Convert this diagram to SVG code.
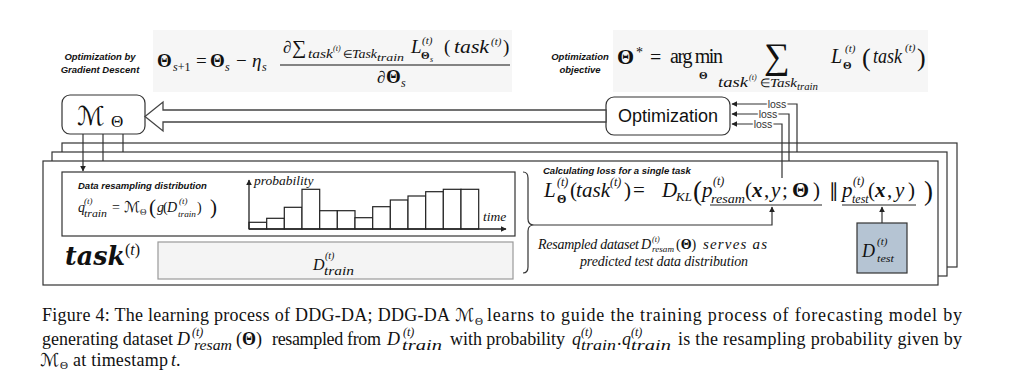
<svg xmlns="http://www.w3.org/2000/svg" width="1027" height="384" viewBox="0 0 1027 384">
<defs>
<marker id="ah" viewBox="0 0 10 10" refX="9" refY="5" markerWidth="6" markerHeight="6" markerUnits="userSpaceOnUse" orient="auto-start-reverse"><path d="M0,0 L10,5 L0,10 z" fill="#222"/></marker>
</defs>
<style>
.lbl{font-family:"Liberation Sans",Arial,sans-serif;font-weight:bold;font-style:italic;font-size:9.5px;fill:#111}
.m{font-family:"Liberation Serif","Times New Roman",serif;font-style:italic;fill:#111}
.r{font-family:"Liberation Serif","Times New Roman",serif;font-style:normal;fill:#111}
.b{font-weight:bold}
.sc{font-family:"DejaVu Serif","DejaVu Sans",serif;font-style:normal;fill:#111}
.cap{font-family:"Liberation Serif","Times New Roman",serif;font-size:18px;fill:#111}
.frame{fill:#fff;stroke:#333;stroke-width:1.2}
.ln{fill:none;stroke:#333;stroke-width:1.2}
.bar{fill:#fff;stroke:#222;stroke-width:1.2}
.loss{font-family:"Liberation Sans",Arial,sans-serif;font-size:10.5px;fill:#333;stroke:#fff;stroke-width:3;paint-order:stroke}
</style>
<rect width="1027" height="384" fill="#fff"/>

<g id="formula-gradient-descent">
<rect x="153" y="30" width="359" height="62" fill="#f6f6f6"/>
<text class="lbl" text-anchor="middle" x="100" y="60">Optimization by</text>
<text class="lbl" text-anchor="middle" x="100" y="73">Gradient Descent</text>
<text class="r b" font-size="19" x="157" y="67">Θ</text>
<text class="m" font-size="12" x="173" y="71">s<tspan class="r">+1</tspan></text>
<text class="r" font-size="19" x="196" y="67">=</text>
<text class="r b" font-size="19" x="210" y="67">Θ</text>
<text class="m" font-size="12" x="225" y="71">s</text>
<text class="r" font-size="19" x="236" y="67">−</text>
<text class="m" font-size="19" x="252" y="67">η</text>
<text class="m" font-size="12" x="262" y="71">s</text>
<line x1="280" y1="65" x2="510" y2="65" stroke="#111" stroke-width="1"/>
<text class="r" font-size="17" x="283" y="53">∂</text>
<text class="r" font-size="20" x="292" y="54">∑</text>
<text class="m" font-size="12" x="308" y="58" textLength="25" lengthAdjust="spacingAndGlyphs">task</text>
<text class="m" font-size="8" x="333" y="51">(t)</text>
<text class="r" font-size="11" x="343" y="58">∈</text>
<text class="m" font-size="12" x="352" y="58" textLength="25" lengthAdjust="spacingAndGlyphs">Task</text>
<text class="m" font-size="11" x="377" y="61" textLength="27" lengthAdjust="spacingAndGlyphs">train</text>
<text class="m" font-size="19" x="411" y="53">L</text>
<text class="m" font-size="11" x="422" y="44">(t)</text>
<text class="r b" font-size="11" x="421" y="59">Θ</text>
<text class="m" font-size="8" x="430" y="62">s</text>
<text class="r" font-size="19" x="444" y="53">(</text>
<text class="m" font-size="19" x="454" y="53" textLength="35" lengthAdjust="spacingAndGlyphs">task</text>
<text class="m" font-size="11" x="491" y="45">(t)</text>
<text class="r" font-size="19" x="503" y="53">)</text>
<text class="r" font-size="17" x="377" y="83">∂</text>
<text class="r b" font-size="19" x="386" y="83">Θ</text>
<text class="m" font-size="12" x="401" y="87">s</text>
</g>

<g id="formula-objective">
<rect x="613" y="30" width="315" height="62" fill="#f6f6f6"/>
<text class="lbl" text-anchor="middle" x="580" y="60">Optimization</text>
<text class="lbl" text-anchor="middle" x="580" y="73">objective</text>
<text class="r b" font-size="22" x="617" y="64">Θ</text>
<text class="r" font-size="14" x="636" y="57">*</text>
<text class="r" font-size="20" x="650" y="64">=</text>
<text class="r" font-size="20" x="670" y="63" textLength="53" lengthAdjust="spacing">arg min</text>
<text class="r b" font-size="11" x="699" y="79">Θ</text>
<text class="r" font-size="36" x="764" y="68">∑</text>
<text class="m" font-size="14" x="718" y="87" textLength="30" lengthAdjust="spacingAndGlyphs">task</text>
<text class="m" font-size="8" x="749" y="80">(t)</text>
<text class="r" font-size="12" x="760" y="87">∈</text>
<text class="m" font-size="13" x="770" y="87" textLength="27" lengthAdjust="spacingAndGlyphs">Task</text>
<text class="m" font-size="10" x="797" y="90" textLength="21" lengthAdjust="spacingAndGlyphs">train</text>
<text class="m" font-size="20" x="831" y="63">L</text>
<text class="m" font-size="11" x="845" y="52">(t)</text>
<text class="r b" font-size="11" x="843" y="69">Θ</text>
<text class="r" font-size="26" x="862" y="66">(</text>
<text class="m" font-size="20" x="873" y="63" textLength="29" lengthAdjust="spacingAndGlyphs">task</text>
<text class="m" font-size="11" x="905" y="51">(t)</text>
<text class="r" font-size="26" x="917" y="66">)</text>
</g>

<g id="node-M">
<rect x="62" y="95" width="83" height="39" rx="8" fill="#fff" stroke="#333" stroke-width="1.2"/>
<text class="sc" font-size="26" x="77" y="125">ℳ</text>
<text class="r" font-size="17" x="111" y="127">Θ</text>
</g>

<g id="node-optimization">
<rect x="606" y="97" width="124" height="38" rx="8" fill="#fff" stroke="#333" stroke-width="1.2"/>
<text font-family="Liberation Sans,Arial,sans-serif" font-size="18" fill="#111" text-anchor="middle" x="668" y="122">Optimization</text>
</g>

<g id="task-stack">
<rect class="frame" x="62" y="143" width="895" height="124"/>
<rect class="frame" x="52" y="152" width="895" height="124"/>
<rect class="frame" x="43" y="161" width="895" height="124"/>
</g>

<g id="node-data-resampling">
<rect x="62" y="172" width="453" height="64" fill="#fff" stroke="#333" stroke-width="1.2"/>
<text class="lbl" font-size="10" x="78" y="189">Data resampling distribution</text>
<text class="m" font-size="14" x="78" y="212">q</text>
<text class="m" font-size="9" x="84" y="204">(t)</text>
<text class="m" font-size="10" x="84" y="217" textLength="23" lengthAdjust="spacingAndGlyphs">train</text>
<text class="r" font-size="14" x="112" y="212">=</text>
<text class="sc" font-size="15" x="124" y="212">ℳ</text>
<text class="r" font-size="9" x="140" y="215">Θ</text>
<text class="r" font-size="21" x="149" y="214">(</text>
<text class="m" font-size="14" x="157" y="212">g</text>
<text class="r" font-size="14" x="163" y="212">(</text>
<text class="m" font-size="14" x="167" y="212">D</text>
<text class="m" font-size="9" x="179" y="204">(t)</text>
<text class="m" font-size="9" x="178" y="217" textLength="18" lengthAdjust="spacingAndGlyphs">train</text>
<text class="r" font-size="14" x="197" y="212">)</text>
<text class="r" font-size="21" x="210" y="214">)</text>
</g>

<g id="node-histogram">
<rect class="bar" x="249" y="222.3" width="17.7" height="6.7"/>
<rect class="bar" x="266.7" y="218.3" width="17.7" height="10.7"/>
<rect class="bar" x="284.3" y="207.3" width="17.7" height="21.7"/>
<rect class="bar" x="302" y="189.3" width="17.7" height="39.7"/>
<rect class="bar" x="319.7" y="210.7" width="17.7" height="18.3"/>
<rect class="bar" x="337.3" y="210.7" width="17.7" height="18.3"/>
<rect class="bar" x="355" y="217.7" width="17.7" height="11.3"/>
<rect class="bar" x="372.7" y="206.7" width="17.7" height="22.3"/>
<rect class="bar" x="390.3" y="200" width="17.7" height="29"/>
<rect class="bar" x="408" y="196" width="17.7" height="33"/>
<rect class="bar" x="425.7" y="191.7" width="17.7" height="37.3"/>
<rect class="bar" x="443.3" y="189.3" width="17.7" height="39.7"/>
<rect class="bar" x="461" y="189.3" width="17.7" height="39.7"/>
<line x1="249" y1="229" x2="249" y2="180" stroke="#222" stroke-width="1.3" marker-end="url(#ah)"/>
<line x1="249" y1="229" x2="506" y2="229" stroke="#222" stroke-width="1.3" marker-end="url(#ah)"/>
<text class="m" font-size="13.5" x="254" y="185">probability</text>
<text class="m" font-size="13.5" x="483" y="221">time</text>
</g>

<g id="node-dtrain">
<rect x="158" y="242" width="355" height="37" fill="#f4f4f4" stroke="#999" stroke-width="1.2"/>
<text class="m" font-size="16" x="313" y="270">D</text>
<text class="m" font-size="10" x="325" y="259">(t)</text>
<text class="m" font-size="12" x="324" y="275" textLength="30" lengthAdjust="spacingAndGlyphs">train</text>
</g>

<g id="task-label">
<text font-family="DejaVu Serif,serif" font-weight="bold" font-style="italic" font-size="26" fill="#111" x="65" y="265" textLength="60" lengthAdjust="spacingAndGlyphs">task</text>
<text class="r" font-size="16" x="125" y="255">(<tspan class="m">t</tspan>)</text>
</g>

<g id="node-loss">
<text class="lbl" font-size="10" x="543" y="174">Calculating loss for a single task</text>
<text class="m" font-size="21" x="544" y="197">L</text>
<text class="m" font-size="12" x="557" y="186">(t)</text>
<text class="r b" font-size="12" x="557" y="203">Θ</text>
<text class="r" font-size="21" x="570" y="197">(</text>
<text class="m" font-size="21" x="576" y="197" textLength="34" lengthAdjust="spacing">task</text>
<text class="m" font-size="12" x="610" y="186">(t)</text>
<text class="r" font-size="21" x="624" y="197">)</text>
<text class="r" font-size="21" x="633" y="197">=</text>
<text class="m" font-size="21" x="662" y="197">D</text>
<text class="m" font-size="13" x="676" y="201">KL</text>
<text class="r" font-size="27" x="693" y="200">(</text>
<text class="m" font-size="21" x="702" y="197">p</text>
<text class="m" font-size="12" x="713" y="185">(t)</text>
<text class="m" font-size="13" x="711" y="203" textLength="34" lengthAdjust="spacingAndGlyphs">resam</text>
<text class="r" font-size="21" x="745" y="197">(</text>
<text class="m b" font-size="21" x="752" y="197">x</text>
<text class="r" font-size="21" x="764" y="197">,</text>
<text class="m" font-size="21" x="771" y="197">y</text>
<text class="r" font-size="21" x="782" y="197">;</text>
<text class="r b" font-size="22" x="792" y="197">Θ</text>
<text class="r" font-size="21" x="813" y="197">)</text>
<text class="r" font-size="19" x="829" y="197">∥</text>
<text class="m" font-size="21" x="842" y="197">p</text>
<text class="m" font-size="12" x="853" y="185">(t)</text>
<text class="m" font-size="12" x="852" y="203">test</text>
<text class="r" font-size="21" x="868" y="197">(</text>
<text class="m b" font-size="21" x="875" y="197">x</text>
<text class="r" font-size="21" x="887" y="197">,</text>
<text class="m" font-size="21" x="895" y="197">y</text>
<text class="r" font-size="21" x="908" y="197">)</text>
<text class="r" font-size="27" x="924" y="200">)</text>
<line x1="710" y1="205" x2="822" y2="205" stroke="#222" stroke-width="1"/>
<line x1="842" y1="205" x2="916" y2="205" stroke="#222" stroke-width="1"/>
<text class="m" font-size="14" x="538" y="249" textLength="101" lengthAdjust="spacing">Resampled dataset</text>
<text class="m" font-size="14" x="641" y="249">D</text>
<text class="m" font-size="8" x="652" y="242">(t)</text>
<text class="m" font-size="8" x="652" y="252" textLength="22" lengthAdjust="spacingAndGlyphs">resam</text>
<text class="r" font-size="14" x="676" y="249">(<tspan class="b">Θ</tspan>)</text>
<text class="m" font-size="15" x="703" y="249" textLength="64" lengthAdjust="spacing">serves as</text>
<text class="m" font-size="14" x="580" y="266" textLength="168" lengthAdjust="spacing">predicted test data distribution</text>
</g>

<g id="node-dtest">
<rect x="857" y="223" width="50" height="50" fill="#b5c4d3" stroke="#333" stroke-width="1.2"/>
<text class="m" font-size="18" x="862" y="257">D</text>
<text class="m" font-size="11" x="877" y="245">(t)</text>
<text class="m" font-size="11" x="877" y="262" textLength="17" lengthAdjust="spacingAndGlyphs">test</text>
</g>

<g id="connectors">
<polygon points="606,110 163,110 163,102 145,116.5 163,131 163,122 606,122" fill="#fff" stroke="#444" stroke-width="1.3" stroke-linejoin="miter"/>
<line class="ln" x1="83" y1="134" x2="83" y2="171" marker-end="url(#ah)"/>
<line class="ln" x1="103" y1="134" x2="103" y2="161"/>
<line class="ln" x1="123" y1="134" x2="123" y2="152"/>
<polyline class="ln" points="797,152 797,104 732,104" marker-end="url(#ah)"/>
<polyline class="ln" points="789,161 789,114 732,114" marker-end="url(#ah)"/>
<polyline class="ln" points="782,178 782,124 732,124" marker-end="url(#ah)"/>
<text class="loss" text-anchor="middle" x="777" y="107.5">loss</text>
<text class="loss" text-anchor="middle" x="768" y="117.5">loss</text>
<text class="loss" text-anchor="middle" x="763" y="127.5">loss</text>
<path class="ln" d="M523,172 Q528,172 528,178 L528,219 Q528,225 534,225 Q528,225 528,231 L528,267 Q528,273 523,273"/>
<polyline class="ln" points="534,225 772,225 772,207" marker-end="url(#ah)"/>
<line class="ln" x1="882" y1="223" x2="882" y2="207" marker-end="url(#ah)"/>
</g>

<g id="caption">
<text class="cap" x="42" y="321" textLength="408" lengthAdjust="spacing">Figure 4: The learning process of DDG-DA; DDG-DA</text>
<text class="sc" font-size="18" x="455" y="321">ℳ</text>
<text class="r" font-size="11" x="475" y="325">Θ</text>
<text class="cap" x="487" y="321" textLength="475" lengthAdjust="spacing">learns to guide the training process of forecasting model by</text>
<text class="cap" x="42" y="345" textLength="131" lengthAdjust="spacing">generating dataset</text>
<text class="m" font-size="18" x="177" y="345">D</text>
<text class="m" font-size="12" x="192" y="336">(t)</text>
<text class="m" font-size="14" x="194" y="350" textLength="38" lengthAdjust="spacingAndGlyphs">resam</text>
<text class="cap" x="236" y="345">(<tspan font-weight="bold">Θ</tspan>)</text>
<text class="cap" x="272" y="345" textLength="109" lengthAdjust="spacing">resampled from</text>
<text class="m" font-size="18" x="387" y="345">D</text>
<text class="m" font-size="12" x="403" y="336">(t)</text>
<text class="m" font-size="15" x="402" y="350" textLength="40" lengthAdjust="spacingAndGlyphs">train</text>
<text class="cap" x="450" y="345" textLength="115" lengthAdjust="spacing">with probability</text>
<text class="m" font-size="18" x="572" y="345">q</text>
<text class="m" font-size="12" x="581" y="336">(t)</text>
<text class="m" font-size="15" x="581" y="350" textLength="35" lengthAdjust="spacingAndGlyphs">train</text>
<text class="cap" x="617" y="345">.</text>
<text class="m" font-size="18" x="622" y="345">q</text>
<text class="m" font-size="12" x="631" y="336">(t)</text>
<text class="m" font-size="15" x="631" y="350" textLength="40" lengthAdjust="spacingAndGlyphs">train</text>
<text class="cap" x="678" y="345" textLength="284" lengthAdjust="spacing">is the resampling probability given by</text>
<text class="sc" font-size="18" x="40" y="366">ℳ</text>
<text class="r" font-size="11" x="60" y="369">Θ</text>
<text class="cap" x="73" y="366" textLength="95" lengthAdjust="spacing">at timestamp</text>
<text class="m" font-size="18" x="171" y="366">t</text>
<text class="cap" x="176" y="366">.</text>
</g>
</svg>
